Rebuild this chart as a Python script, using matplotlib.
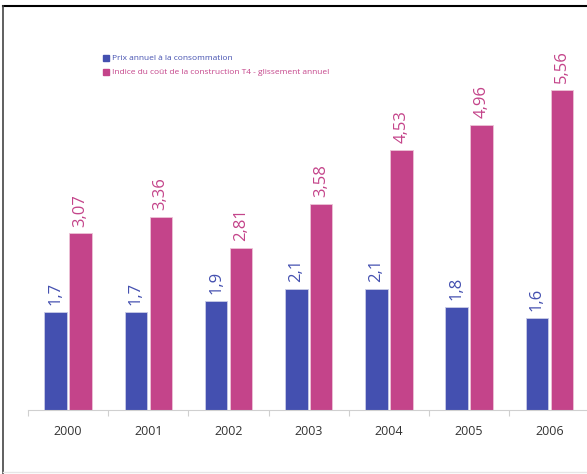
import matplotlib
matplotlib.use("Agg")
import matplotlib.pyplot as plt
from matplotlib.lines import Line2D
import numpy as np

# data
years = ["2000", "2001", "2002", "2003", "2004", "2005", "2006"]
prix = [1.7, 1.7, 1.9, 2.1, 2.1, 1.8, 1.6]
indice = [3.07, 3.36, 2.81, 3.58, 4.53, 4.96, 5.56]
labels_prix = ["1,7", "1,7", "1,9", "2,1", "2,1", "1,8", "1,6"]
labels_indice = ["3,07", "3,36", "2,81", "3,58", "4,53", "4,96", "5,56"]
legend_labels = ["Prix annuel à la consommation",
                 "Indice du coût de la construction T4 - glissement annuel"]

blue = "#4450b0"
pink = "#c4448a"

plt.rcParams["font.family"] = ["Open Sans", "DejaVu Sans"]

W, H = 587, 474
fig = plt.figure(figsize=(W / 100, H / 100), dpi=100)
fig.patch.set_facecolor("white")

# axes placed in pixel terms: baseline at y=410, left at x=28
ax = fig.add_axes([28 / W, (H - 410) / H, 1 - 28 / W, 390 / H])
x = np.arange(len(years))
bw = 0.28
off = 0.155
ax.bar(x - off, prix, bw, color=blue, edgecolor="#c9cbe6", linewidth=0.6)
ax.bar(x + off, indice, bw, color=pink, edgecolor="#ecc3d6", linewidth=0.6)

for i in range(len(years)):
    ax.annotate(labels_prix[i], (x[i] - off, prix[i]), xytext=(0, 5),
                textcoords="offset points", rotation=90, ha="center",
                va="bottom", color=blue, fontsize=12)
    ax.annotate(labels_indice[i], (x[i] + off, indice[i]), xytext=(0, 5),
                textcoords="offset points", rotation=90, ha="center",
                va="bottom", color=pink, fontsize=12)

ax.set_xlim(-0.5, 6.47)
ax.set_ylim(0, 390 / 57.5)
for s in ["top", "right", "left"]:
    ax.spines[s].set_visible(False)
ax.spines["bottom"].set_color("#d0d0d0")
ax.set_yticks([])
ax.set_xticks(np.arange(-0.5, 6.0, 1.0))
ax.set_xticklabels([])
ax.tick_params(axis="x", length=4, color="#d0d0d0")
ax.set_xticks(x, minor=True)
ax.set_xticklabels(years, minor=True, fontsize=9, color="#333333")
ax.tick_params(axis="x", which="minor", length=0, pad=11)

# legend drawn as squares + text
fig.patches.append(plt.Rectangle((103 / W, 1 - 61 / H), 6 / W, 6 / H,
                                 transform=fig.transFigure, color=blue))
fig.patches.append(plt.Rectangle((103 / W, 1 - 75 / H), 6 / W, 6 / H,
                                 transform=fig.transFigure, color=pink))
fig.text(112 / W, 1 - 58 / H, legend_labels[0], fontsize=6, color=blue,
         va="center", ha="left")
fig.text(112 / W, 1 - 72 / H, legend_labels[1], fontsize=6, color=pink,
         va="center", ha="left")

# outer frame
fig.add_artist(Line2D([3 / W, 1], [1 - 6 / H, 1 - 6 / H], color="black",
                      linewidth=1.5, transform=fig.transFigure))
fig.add_artist(Line2D([3 / W, 3 / W], [1 - 6 / H, 0], color="#444444",
                      linewidth=1.2, transform=fig.transFigure))
fig.add_artist(Line2D([3 / W, 1], [2 / H, 2 / H], color="#e6e6e6",
                      linewidth=1, transform=fig.transFigure))

fig.savefig("out.png", dpi=100)
